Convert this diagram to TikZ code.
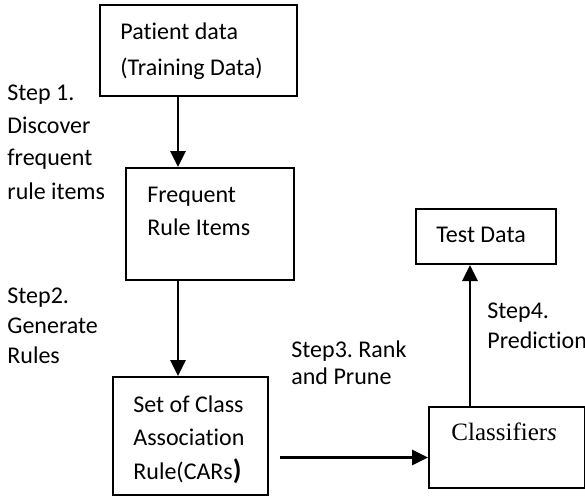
\documentclass[tikz,border=0pt]{standalone}
\usepackage{fontspec}
\setmainfont{Carlito}[Ligatures=NoCommon]
\newfontfamily\cambriafont{Liberation Serif}
\usetikzlibrary{arrows.meta}
\frenchspacing
\begin{document}
\begin{tikzpicture}[x=0.5pt,y=-0.5pt,
  box/.style={draw, line width=1pt, inner sep=0pt, minimum width=#1},
  lbl/.style={anchor=base west, inner sep=0pt, font=\fontsize{12}{14}\selectfont},
  arr/.style={line width=1.4pt, -{Triangle[width=7.5pt,length=8pt]}}]
\useasboundingbox (0,0) rectangle (585,504);
% boxes
\node[box=98.5pt, minimum height=45.5pt] (p1) at (198.5,50.5) {};
\node[box=84pt, minimum height=56pt] (p2) at (210,224) {};
\node[box=77.5pt, minimum height=59pt] (p3) at (190.5,436) {};
\node[box=70pt, minimum height=27.5pt] (test) at (486,236.5) {};
\node[box=78pt, minimum height=40.5pt] (cls) at (507,447.5) {};
% texts in boxes
\node[lbl] (t1a) at (120,39) {Patient data};
\node[lbl] (t1b) at (120,75) {(Training Data)};
\node[lbl] (t2a) at (147,202) {Frequent};
\node[lbl] (t2b) at (147,235) {Rule Items};
\node[lbl] (t3a) at (133,412) {Set of Class};
\node[lbl] (t3b) at (133,445) {Association};
\node[lbl] (t3c) at (133,479) {Rule(CARs{\fontsize{14}{14}\selectfont\bfseries )}};
\node[lbl] (tt) at (436,242) {Test Data};
\node[lbl, font=\fontsize{12.5}{14}\cambriafont] (tc) at (451,440) {Classifier\textit{s}};
% step labels
\node[lbl] (s1a) at (7,100) {Step 1.};
\node[lbl] (s1b) at (7,133) {Discover};
\node[lbl] (s1c) at (7,165) {frequent};
\node[lbl] (s1d) at (7,199) {rule items};
\node[lbl] (s2a) at (7,303) {Step2.};
\node[lbl] (s2b) at (7,333) {Generate};
\node[lbl] (s2c) at (7,363) {Rules};
\node[lbl] (s3a) at (291,357) {Step3. Rank};
\node[lbl] (s3b) at (291,384) {and Prune};
\node[lbl] (s4a) at (487,318) {Step4.};
\node[lbl] (s4b) at (487,348) {Prediction};
% connectors
\coordinate (xa) at (178,0);
\coordinate (c3) at (280,457.5);
\coordinate (xb) at (470,0);
\draw[arr] (p1.south -| xa) -- (p2.north -| xa);
\draw[arr] (p2.south -| xa) -- (p3.north -| xa);
\draw[arr] (c3) -- (c3 -| cls.west);
\draw[arr] (cls.north -| xb) -- (test.south -| xb);
\end{tikzpicture}
\end{document}
